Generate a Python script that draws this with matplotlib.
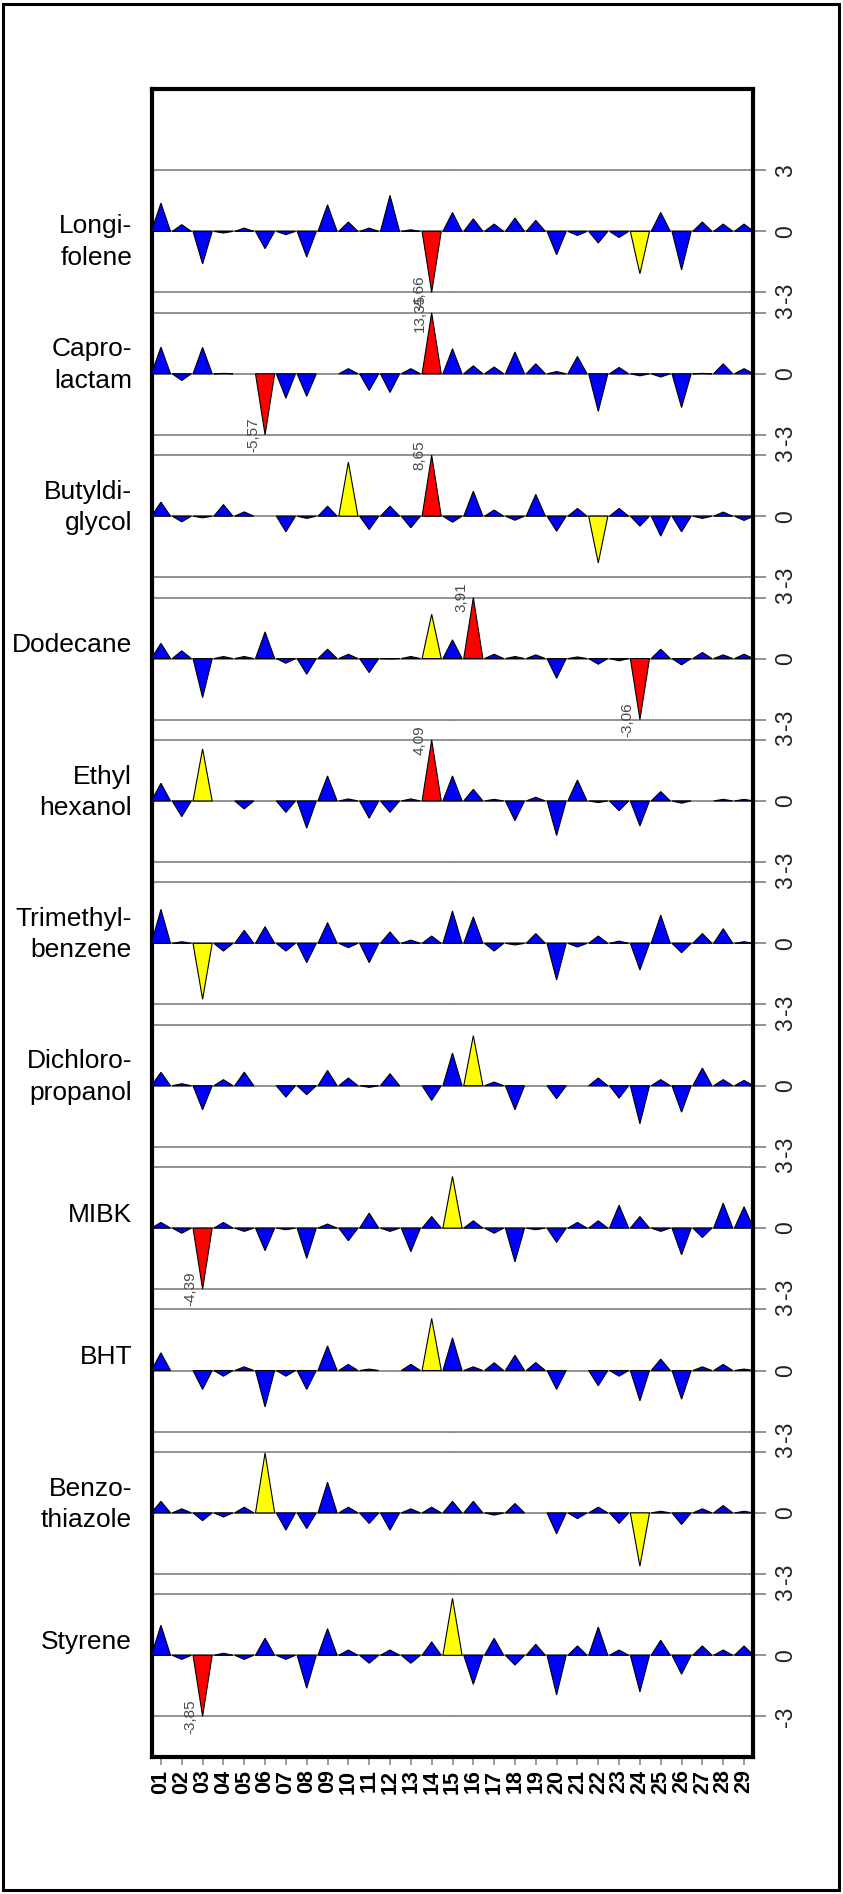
import numpy as np
import matplotlib.pyplot as plt
from matplotlib.patches import Polygon, Rectangle

nan = np.nan

# sample codes along the x axis
samples = ['%02d' % i for i in range(1, 30)]

# compound names shown on the left of each strip
compounds = ['Longi-\nfolene', 'Capro-\nlactam', 'Butyldi-\nglycol', 'Dodecane',
             'Ethyl\nhexanol', 'Trimethyl-\nbenzene', 'Dichloro-\npropanol', 'MIBK',
             'BHT', 'Benzo-\nthiazole', 'Styrene']

# z-scores per sample (nan = no result)
longifolene = [1.39, 0.33, -1.60, -0.08, 0.16, -0.85, -0.16, -1.26, 1.31, 0.46,
               0.16, 1.77, 0.08, -4.66, 0.93, 0.62, 0.36, 0.66, 0.54, -1.15,
               -0.20, -0.57, -0.30, -2.08, 0.93, -1.89, 0.46, 0.36, 0.36]
caprolactam = [1.31, -0.33, 1.30, 0.02, nan, -5.57, -1.20, -1.11, nan, 0.25,
               -0.82, -0.92, 0.25, 13.35, 1.23, 0.39, 0.33, 1.07, 0.49, 0.11,
               0.85, -1.85, 0.31, -0.10, -0.16, -1.66, 0.02, 0.49, 0.25]
butyldiglycol = [0.69, -0.28, -0.08, 0.57, 0.21, nan, -0.77, -0.11, 0.49, 2.66,
                 -0.66, 0.49, -0.57, 8.65, -0.30, 1.23, 0.30, -0.20, 1.07, -0.74,
                 0.38, -2.30, 0.38, -0.49, -0.98, -0.77, -0.11, 0.20, -0.21]
dodecane = [0.75, 0.38, -1.92, 0.10, 0.10, 1.31, -0.23, -0.77, 0.46, 0.21,
            -0.69, -0.02, 0.10, 2.18, 0.92, 3.91, 0.21, 0.10, 0.18, -0.97,
            0.08, -0.28, -0.11, -3.06, 0.46, -0.31, 0.30, 0.18, 0.21]
ethylhexanol = [0.87, -0.77, 2.56, nan, -0.39, nan, -0.56, -1.34, 1.23, 0.10,
                -0.85, -0.56, 0.10, 4.09, 1.23, 0.57, 0.08, -0.97, 0.18, -1.70,
                1.03, -0.08, -0.48, -1.23, 0.46, -0.11, nan, 0.08, 0.08]
trimethylbenzene = [1.67, 0.08, -2.75, -0.38, 0.64, 0.82, -0.38, -0.95, 1.02, -0.21,
                    -0.95, 0.56, 0.16, 0.36, 1.59, 1.30, -0.38, -0.08, 0.48, -1.80,
                    -0.18, 0.36, 0.11, -1.31, 1.39, -0.46, 0.48, 0.72, 0.08]
dichloropropanol = [0.66, 0.10, -1.18, 0.30, 0.67, nan, -0.56, -0.44, 0.75, 0.38,
                    -0.08, 0.59, nan, -0.72, 1.61, 2.46, 0.18, -1.18, nan, -0.64,
                    nan, 0.38, -0.61, -1.87, 0.30, -1.30, 0.87, 0.30, 0.26]
mibk = [0.28, -0.25, -4.39, 0.28, -0.16, -1.11, -0.08, -1.49, 0.20, -0.62,
        0.74, -0.16, -1.16, 0.57, 2.54, 0.36, -0.25, -1.66, -0.08, -0.70,
        0.28, 0.36, 1.13, 0.57, -0.16, -1.31, -0.46, 1.23, 1.05]
bht = [0.87, nan, -0.93, -0.28, 0.18, -1.79, -0.28, -0.93, 1.21, 0.30,
       0.07, nan, 0.30, 2.56, 1.61, 0.18, 0.38, 0.75, 0.39, -0.93,
       nan, -0.75, -0.28, -1.49, 0.56, -1.41, 0.18, 0.30, 0.07]
benzothiazole = [0.57, 0.20, -0.38, -0.20, 0.28, 2.95, -0.85, -0.77, 1.51, 0.28,
                 -0.52, -0.85, 0.20, 0.28, 0.57, 0.57, -0.11, 0.46, nan, -1.03,
                 -0.28, 0.28, -0.52, -2.62, 0.08, -0.57, 0.20, 0.36, 0.08]
styrene = [1.48, -0.20, -3.85, 0.10, -0.20, 0.84, -0.20, -1.62, 1.31, 0.26,
           -0.39, 0.26, -0.39, 0.66, 2.80, -1.43, 0.84, -0.48, 0.54, -1.95,
           0.46, 1.39, 0.26, -1.80, 0.74, -0.93, 0.46, 0.26, 0.46]

series = [longifolene, caprolactam, butyldiglycol, dodecane, ethylhexanol,
          trimethylbenzene, dichloropropanol, mibk, bht, benzothiazole, styrene]

plt.rcParams['font.family'] = ['Liberation Sans', 'DejaVu Sans']

W, H = 843, 1894
fig = plt.figure(figsize=(W / 100, H / 100), dpi=100)
fig.patch.set_facecolor('white')

# frame round the whole figure
fig.patches.append(Rectangle((3 / W, 4 / H), 836 / W, 1886 / H, transform=fig.transFigure,
                             fill=False, edgecolor='black', linewidth=2.2))

# plot box in pixels: left 152, right 753, top 89, bottom 1757
ax = fig.add_axes([152 / W, (H - 1757) / H, (753 - 152) / W, (1757 - 89) / H])

step = 7        # vertical offset between strips
limit = 3       # spikes are clipped at +/- 3
halfw = 0.46    # half width of a spike base

# extra vertical nudge of the name block for each strip (z units)
name_nudge = [-0.95, 0, 0, 0, 0, 0, 0, 0, 0, 0, 0]

n = len(samples)
x = np.arange(1, n + 1)

ticks, ticklabels = [], []
for k, (name, vals) in enumerate(zip(compounds, series)):
    off = -step * k
    # reference lines at +3, 0, -3
    for lv, lab in [(limit, '3'), (0, '0'), (-limit, '-3')]:
        ax.axhline(off + lv, color='#8a8a8a', lw=1.3, zorder=1)
        ax.plot(15, off + lv, 's', color='#4c9a4c', ms=0.7, mew=0, zorder=1.5)
        ticks.append(off + lv)
        ticklabels.append(lab)

    for xi, v in zip(x, vals):
        if np.isnan(v):
            continue
        a = abs(v)
        if a > 3:
            col = '#FF0000'
        elif a > 2:
            col = '#FFFF00'
        else:
            col = '#0000FF'
        top = off + np.clip(v, -limit, limit)
        tri = Polygon([(xi - halfw, off), (xi, top), (xi + halfw, off)], closed=True,
                      facecolor=col, edgecolor='black', linewidth=0.8, zorder=3)
        ax.add_patch(tri)
        if a > 3:
            ax.text(xi - 0.58, top, ('%.2f' % v).replace('.', ','), rotation=90,
                    ha='center', va='center', fontsize=11, color='#4a4a4a', zorder=4)

    # compound name, right aligned left of the box
    lines = name.split('\n')
    if len(lines) == 1:
        base = [off + 0.3]
    else:
        base = [off + 0.85, off + 0.85 - 1.53]
    for yb, ln in zip(base, lines):
        ax.text(-0.39, yb + name_nudge[k], ln, ha='right', va='baseline', fontsize=19,
                color='black', clip_on=False)

ax.set_xlim(0.57, 29.43)
ax.set_ylim(-75, 7)

ax.set_xticks(x)
ax.set_xticklabels(samples, rotation=90, fontsize=15.5, fontweight='bold')
ax.tick_params(axis='x', length=6, width=1.2, color='#8a8a8a', pad=3)

ax.yaxis.tick_right()
ax.set_yticks(ticks)
ax.set_yticklabels(ticklabels, rotation=90, va='center', fontsize=16.5, color='#222222')
ax.tick_params(axis='y', length=9, width=1.3, color='#8a8a8a', pad=6)

for sp in ax.spines.values():
    sp.set_linewidth(3)
    sp.set_color('black')

fig.savefig('out.png', dpi=100, facecolor='white')
